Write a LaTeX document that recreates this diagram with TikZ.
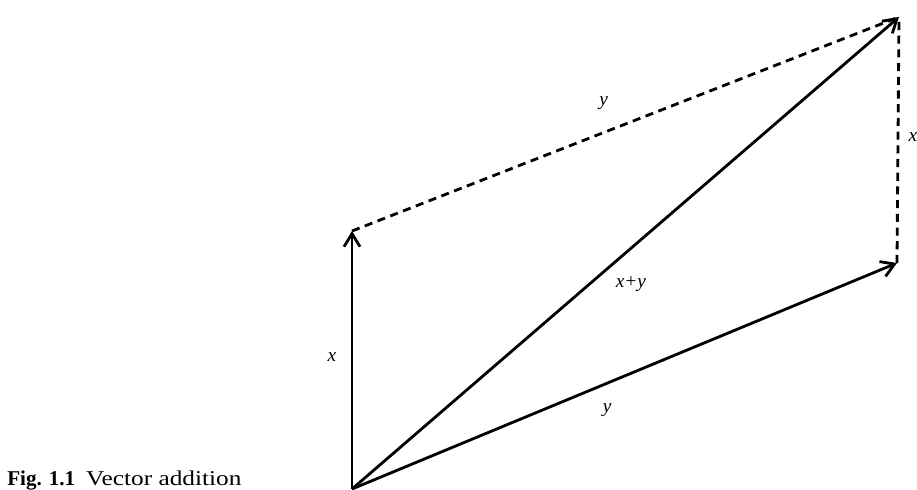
\documentclass[tikz,border=0pt]{standalone}
\usepackage{fontspec}
\setmainfont{Liberation Serif}
\usepackage{tikz}
\usetikzlibrary{arrows.meta}

\begin{document}
\begin{tikzpicture}[
 x=0.02cm,y=-0.02cm,
 v/.style={-{Straight Barb[length=2.6mm,width=3.2mm]},line width=1.6pt},
 d/.style={line width=1.6pt,dash pattern=on 4.6pt off 3.2pt},
 l/.style={font=\fontsize{11}{13}\selectfont\itshape,inner sep=1pt}
]
\useasboundingbox (0,0) rectangle (917,490);
\coordinate (o) at (352,489);
\coordinate (xe) at (352,231);
\coordinate (ye) at (897,263);
\coordinate (se) at (899,17);
% dashed sides
\draw[d] (xe)-- node[l,pos=0.46,shift={(0,-29)}] (ly2) {y} (se);
\draw[d] (ye)-- node[l,pos=0.51,shift={(15,0)}] (lx2) {x} (se);
% vectors
\draw[v] (o)-- node[l,pos=0.51,shift={(-20,0)}] (lx) {x} (xe);
\draw[v] (o)-- node[l,pos=0.468,shift={(0,27)}] (ly) {y} (ye);
\draw[v] (o)-- node[l,pos=0.51,shift={(0,36)}] (lxy) {x+y} (se);
\node[anchor=base west,inner sep=0,font=\fontsize{12}{14}\selectfont] (cap) at (7,485) {\textbf{Fig. 1.1}\hspace{6.2pt}\scalebox{1.2}[1]{Vector addition}};
\end{tikzpicture}
\end{document}
